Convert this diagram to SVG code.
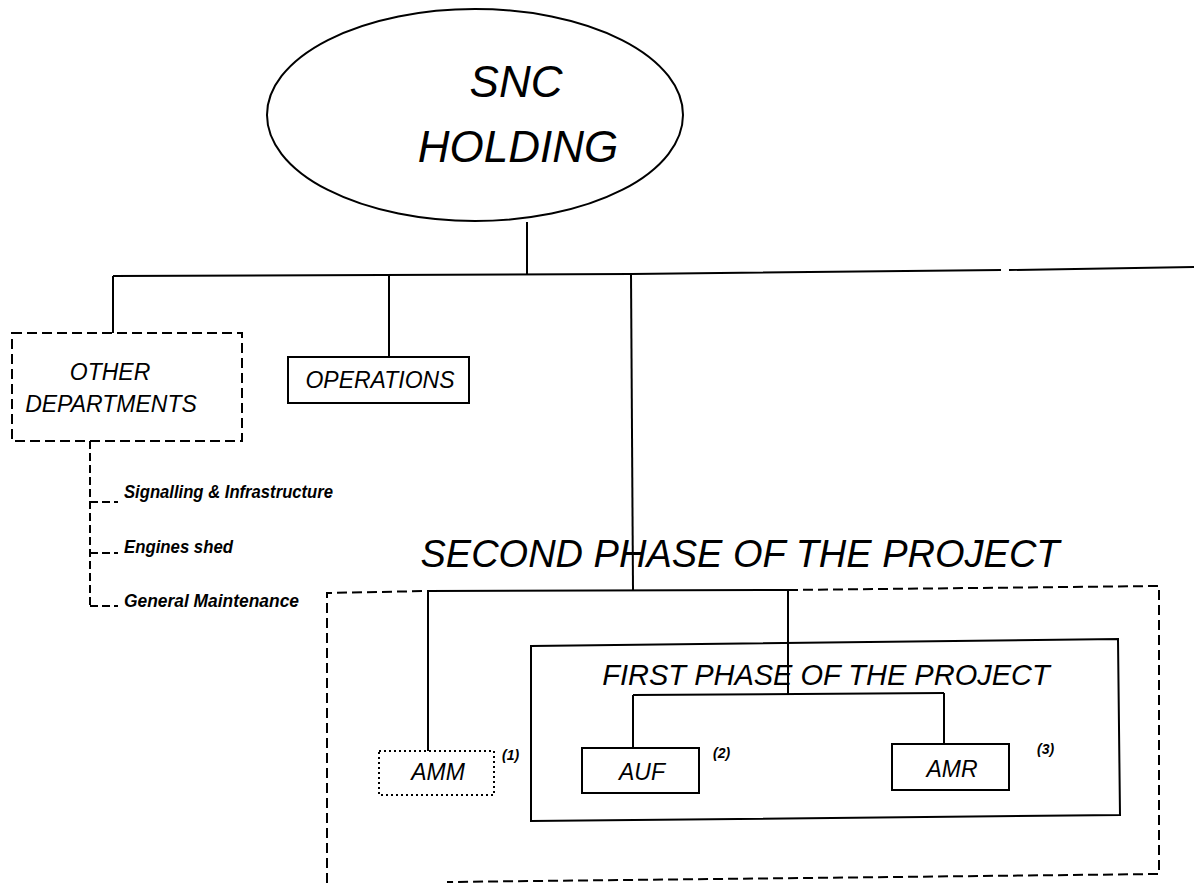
<svg xmlns="http://www.w3.org/2000/svg" width="1194" height="883" viewBox="0 0 1194 883">
<style>
  .t { font-family: "Liberation Sans", Arial, sans-serif; font-style: italic; fill: #000; }
  .big { font-size: 44px; text-anchor: middle; }
  .lbl { font-size: 23px; text-anchor: middle; }
  .sub { font-size: 18px; font-weight: bold; }
  .note { font-size: 14px; font-weight: bold; }
  .box { fill: #fff; stroke: #000; stroke-width: 2; }
  .dash { fill: none; stroke: #000; stroke-width: 2; stroke-dasharray: 10 5; }
  .dot { fill: #fff; stroke: #000; stroke-width: 2; stroke-dasharray: 2 3; }
  .line { fill: none; stroke: #000; stroke-width: 2; }
  .dline { fill: none; stroke: #000; stroke-width: 2; stroke-dasharray: 8 4; }
</style>
<rect width="1194" height="883" fill="#fff"/>

<g id="second-phase">
  <path class="dash" d="M327 883 L327 593 L427 591 M788 590 L1159 586 L1159 874 L447 882"/>
  <text class="t" x="740" y="567" font-size="38" text-anchor="middle">SECOND PHASE OF THE PROJECT</text>
</g>

<g id="first-phase">
  <path class="line" d="M531 646 L1118 639 L1120 815 L531 821 Z"/>
  <text class="t" x="826" y="685" font-size="29" text-anchor="middle">FIRST PHASE OF THE PROJECT</text>
</g>

<g id="holding">
  <ellipse cx="475" cy="115" rx="208" ry="106" class="box"/>
  <text class="t big" x="516" y="97">SNC</text>
  <text class="t big" x="518" y="162" font-size="45">HOLDING</text>
</g>

<g id="other-departments">
  <rect x="12" y="333" width="230" height="108" class="dash"/>
  <text class="t lbl" x="110" y="380">OTHER</text>
  <text class="t lbl" x="111" y="412">DEPARTMENTS</text>
</g>

<g id="operations">
  <rect x="288" y="357" width="181" height="46" class="box"/>
  <text class="t lbl" x="380" y="388">OPERATIONS</text>
</g>

<g id="signalling">
  <text class="t sub" x="124" y="498" textLength="209" lengthAdjust="spacingAndGlyphs">Signalling &amp; Infrastructure</text>
</g>
<g id="engines">
  <text class="t sub" x="124" y="553" textLength="109" lengthAdjust="spacingAndGlyphs">Engines shed</text>
</g>
<g id="maintenance">
  <text class="t sub" x="124" y="607" textLength="175" lengthAdjust="spacingAndGlyphs">General Maintenance</text>
</g>

<g id="amm">
  <rect x="379" y="751" width="115" height="44" class="dot"/>
  <text class="t lbl" x="438" y="780" font-size="22">AMM</text>
  <text class="t note" x="502" y="760">(1)</text>
</g>

<g id="auf">
  <rect x="582" y="748" width="117" height="45" class="box"/>
  <text class="t lbl" x="642" y="780" font-size="22">AUF</text>
  <text class="t note" x="713" y="758">(2)</text>
</g>

<g id="amr">
  <rect x="892" y="744" width="117" height="46" class="box"/>
  <text class="t lbl" x="952" y="777" font-size="22">AMR</text>
  <text class="t note" x="1037" y="754">(3)</text>
</g>

<g id="connectors">
  <path class="line" d="M527 222 L527 275"/>
  <path class="line" d="M113 276 L631 274 L1001 270 M1009 270 L1194 267"/>
  <path class="line" d="M113 276 L113 333"/>
  <path class="line" d="M389 275 L389 357"/>
  <path class="line" d="M631 274 L633 590"/>
  <path class="line" d="M427 591 L788 590"/>
  <path class="line" d="M428 591 L428 751"/>
  <path class="line" d="M788 590 L788 695"/>
  <path class="line" d="M633 695 L944 693"/>
  <path class="line" d="M633 695 L633 748"/>
  <path class="line" d="M944 693 L944 744"/>
  <path class="dline" d="M90 441 L90 608"/>
  <path class="dline" d="M90 502 L118 502 M90 553 L118 553 M90 606 L118 606"/>
</g>
</svg>
